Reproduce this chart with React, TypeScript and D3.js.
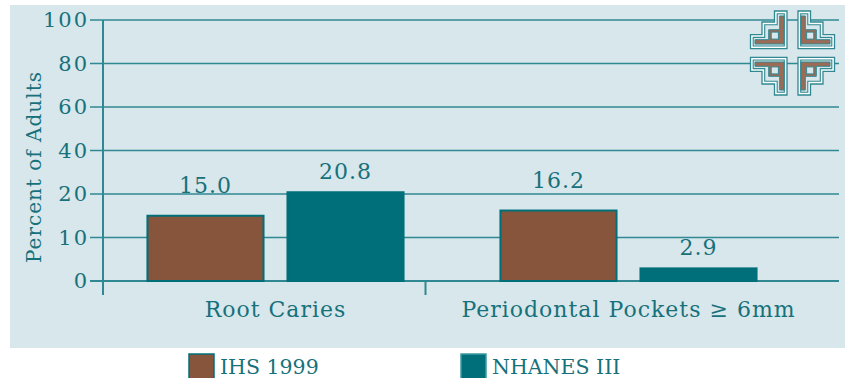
import React from "react";
import * as d3 from "d3";

// Chart data
const categories = ["Root Caries", "Periodontal Pockets \u2265 6mm"];
const series = ["IHS 1999", "NHANES III"];
const ihs1999 = [15.0, 16.2];
const nhanes3 = [20.8, 2.9];
const yTicks = [0, 10, 20, 40, 60, 80, 100];
const yTitle = "Percent of Adults";

const W = 845;
const H = 378;
const PANEL = "#d7e7eb";
const TEAL_TEXT = "#17717b";
const TEAL_BAR = "#006f79";
const BROWN = "#87553c";
const GRID = "#2f8892";
const FONT = "'DejaVu Serif', serif";

const seriesColor = [BROWN, TEAL_BAR];
const labelGap = [23, 13];

// Evenly spaced ticks even though the values are not (0,10,20,40,...)
const yTop = 20;
const yBase = 281;
const y = d3
  .scaleLinear()
  .domain(yTicks)
  .range(yTicks.map((_, i) => yBase - (i * (yBase - yTop)) / (yTicks.length - 1)));

// Frame of the category axis (separator ticks)
const axisX = d3.scaleBand<string>().domain(categories).range([103, 748]);
// Placement of the bar clusters
const groupX = d3.scaleBand<string>().domain(categories).range([99, 805]);
const innerX = d3
  .scaleBand<string>()
  .domain(series)
  .range([0, groupX.bandwidth()])
  .paddingInner(0.171)
  .paddingOuter(0.346);

const values = [ihs1999, nhanes3];

// One quadrant of the corner emblem, drawn for the upper-left position
const outerStep = "M-18,-42 L-5.5,-42 L-5.5,-4.3 L-42,-4.3 L-42,-18.3 L-30.5,-18.3 L-30.5,-31 L-18,-31 Z";
const innerStep = "M-15.3,-39.3 L-8.2,-39.3 L-8.2,-7 L-39.3,-7 L-39.3,-15.6 L-27.8,-15.6 L-27.8,-28.3 L-15.3,-28.3 Z";
const brownShape = "M-12.8,-37 L-8.5,-37 L-8.5,-9 L-37.5,-9 L-37.5,-13.3 L-23.8,-13.3 L-23.8,-23.3 L-12.8,-23.3 Z";

function Emblem({ cx, cy }: { cx: number; cy: number }) {
  const flips = [
    [1, 1],
    [-1, 1],
    [1, -1],
    [-1, -1],
  ];
  return (
    <g transform={`translate(${cx},${cy})`}>
      {flips.map(([sx, sy], i) => (
        <g key={i} transform={`scale(${sx},${sy})`}>
          <path d={outerStep} fill="#ffffff" stroke={GRID} strokeWidth={1.3} />
          <path d={innerStep} fill={PANEL} stroke={GRID} strokeWidth={1.1} />
          <path d={brownShape} fill="#9c6b55" stroke={GRID} strokeWidth={1} />
          <rect x={-21.3} y={-20.9} width={7.2} height={7} fill={PANEL} stroke={GRID} strokeWidth={1} />
        </g>
      ))}
    </g>
  );
}

export default function App() {
  const gridX0 = 90;
  const gridX1 = 839;
  return (
    <div style={{ position: "absolute", left: 0, top: 0 }}>
      <svg width={W} height={H} style={{ display: "block", background: "#ffffff" }}>
        <rect x={10} y={5} width={W - 10} height={343} fill={PANEL} />

        {/* grid lines and y ticks */}
        {yTicks.map((t) => (
          <g key={t}>
            <line x1={gridX0} x2={gridX1} y1={y(t)} y2={y(t)} stroke={GRID} strokeWidth={t === 0 ? 2 : 1.5} />
            <text
              x={89}
              y={y(t) + 7}
              textAnchor="end"
              fontFamily={FONT}
              fontSize={21}
              letterSpacing={2}
              fill={TEAL_TEXT}
            >
              {t}
            </text>
          </g>
        ))}

        {/* y axis */}
        <line x1={103} x2={103} y1={yTop} y2={295} stroke={GRID} strokeWidth={2} />
        <text
          transform={`translate(41,${167}) rotate(-90)`}
          textAnchor="middle"
          fontFamily={FONT}
          fontSize={20}
          letterSpacing={1}
          fill={TEAL_TEXT}
        >
          {yTitle}
        </text>

        {/* category separators */}
        {categories.slice(1).map((c) => (
          <line
            key={c}
            x1={axisX(c)!}
            x2={axisX(c)!}
            y1={yBase}
            y2={295}
            stroke={GRID}
            strokeWidth={2}
          />
        ))}

        {/* bars */}
        {categories.map((c, ci) => (
          <g key={c} transform={`translate(${groupX(c)},0)`}>
            {series.map((s, si) => {
              const v = values[si][ci];
              const x = innerX(s)!;
              const top = y(v);
              return (
                <g key={s}>
                  <rect
                    x={x}
                    y={top}
                    width={innerX.bandwidth()}
                    height={yBase - top}
                    fill={seriesColor[si]}
                    stroke={TEAL_BAR}
                    strokeWidth={2}
                  />
                  <text
                    x={x + innerX.bandwidth() / 2}
                    y={top - labelGap[si]}
                    textAnchor="middle"
                    fontFamily={FONT}
                    fontSize={22}
                    letterSpacing={1}
                    fill={TEAL_TEXT}
                  >
                    {v.toFixed(1)}
                  </text>
                </g>
              );
            })}
            <text
              x={groupX.bandwidth() / 2}
              y={317}
              textAnchor="middle"
              fontFamily={FONT}
              fontSize={22}
              letterSpacing={1}
              fill={TEAL_TEXT}
            >
              {c}
            </text>
          </g>
        ))}

        <Emblem cx={792.5} cy={53} />

        {/* legend */}
        {series.map((s, si) => {
          const lx = si === 0 ? 189 : 461;
          return (
            <g key={s}>
              <rect
                x={lx}
                y={354}
                width={25}
                height={25}
                fill={seriesColor[si]}
                stroke={si === 0 ? TEAL_BAR : "#3d9aa3"}
                strokeWidth={1.5}
              />
              <text x={lx + 31} y={374} fontFamily={FONT} fontSize={20.5} fill={TEAL_TEXT}>
                {s}
              </text>
            </g>
          );
        })}
      </svg>
    </div>
  );
}
